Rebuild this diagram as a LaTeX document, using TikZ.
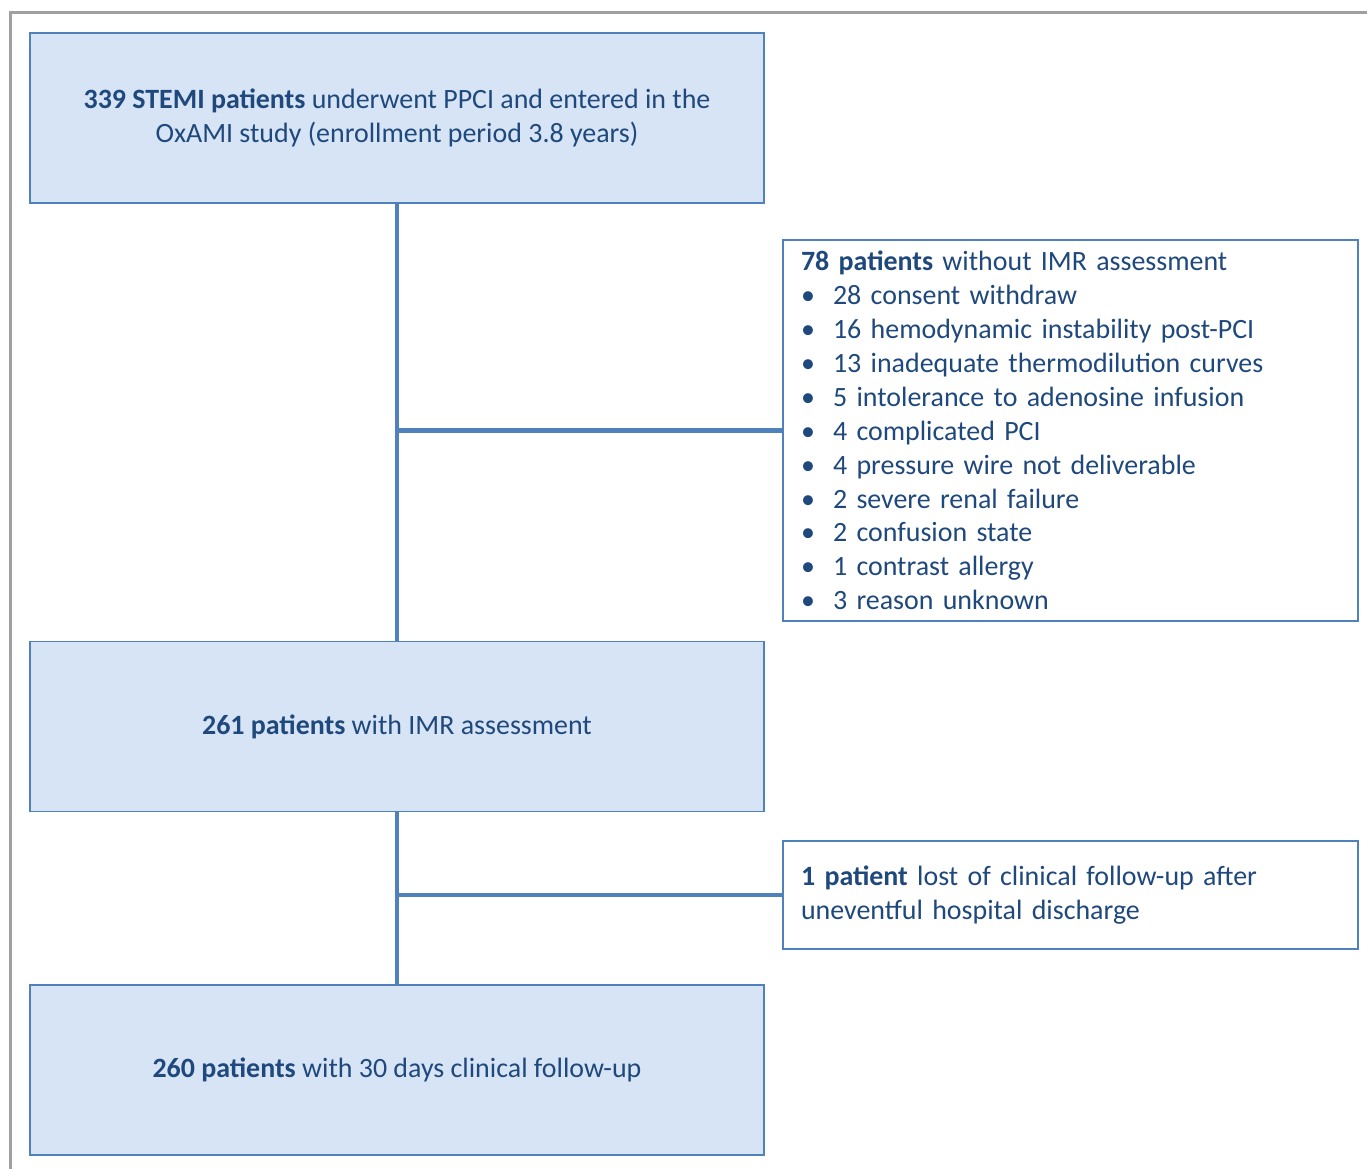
\documentclass[tikz,border=0pt]{standalone}
\usepackage{fontspec}
\setmainfont{Carlito}
\usetikzlibrary{positioning}
\definecolor{boxline}{HTML}{4F81BD}
\definecolor{boxfill}{HTML}{D6E4F5}
\definecolor{boxtext}{HTML}{1F487C}
\definecolor{framegray}{HTML}{A0A0A0}
\newcommand{\itm}[1]{\makebox[0.64cm][l]{\textbullet}#1}
\begin{document}
\begin{tikzpicture}[x=0.02cm,y=-0.02cm,
    mainbox/.style={draw=boxline,line width=1.1pt,fill=boxfill,text=boxtext,
        minimum width=14.68cm,minimum height=3.4cm,align=center,
        font=\fontsize{15.9}{19.3}\selectfont},
    sidebox/.style={draw=boxline,line width=1.1pt,fill=white,text=boxtext,
        minimum width=11.5cm,text width=10.78cm,inner xsep=0.36cm,align=left,
        font=\fontsize{15.9}{19.3}\selectfont},
    link/.style={draw=boxline,line width=2.3pt}]
        \useasboundingbox (0,0) rectangle (1367,1169);

        % draw the frame
        \draw[framegray,line width=1.6pt] (10.5,1169) -- (10.5,12.5) -- (1367,12.5);

        % draw the main boxes
        \node[mainbox] (enrolled) at (397,118)
            {\textbf{339 STEMI patients} underwent PPCI and entered in the\\
             OxAMI study (enrollment period 3.8 years)};
        \node[mainbox] (imr) at (397,726.5) {\textbf{261 patients} with IMR assessment};
        \node[mainbox] (followup) at (397,1070) {\textbf{260 patients} with 30 days clinical follow-up};

        % draw the exclusion boxes
        \node[sidebox,minimum height=7.62cm] (noimr) at (1070.5,430.5)
            {\textbf{78 patients} without IMR assessment\\
             \itm{28 consent withdraw}\\
             \itm{16 hemodynamic instability post-PCI}\\
             \itm{13 inadequate thermodilution curves}\\
             \itm{5 intolerance to adenosine infusion}\\
             \itm{4 complicated PCI}\\
             \itm{4 pressure wire not deliverable}\\
             \itm{2 severe renal failure}\\
             \itm{2 confusion state}\\
             \itm{1 contrast allergy}\\
             \itm{3 reason unknown}};
        \node[sidebox,minimum height=2.16cm] (lost) at (1070.5,895)
            {\textbf{1 patient} lost of clinical follow-up after\\
             uneventful hospital discharge};

        % draw the connectors
        \coordinate (split1) at (enrolled.south |- noimr.west);
        \coordinate (split2) at (imr.south |- lost.west);
        \draw[link] (enrolled.south) -- (imr.north);
        \draw[link] (imr.south) -- (followup.north);
        \draw[link] (split1) -- (noimr.west);
        \draw[link] (split2) -- (lost.west);
\end{tikzpicture}
\end{document}
